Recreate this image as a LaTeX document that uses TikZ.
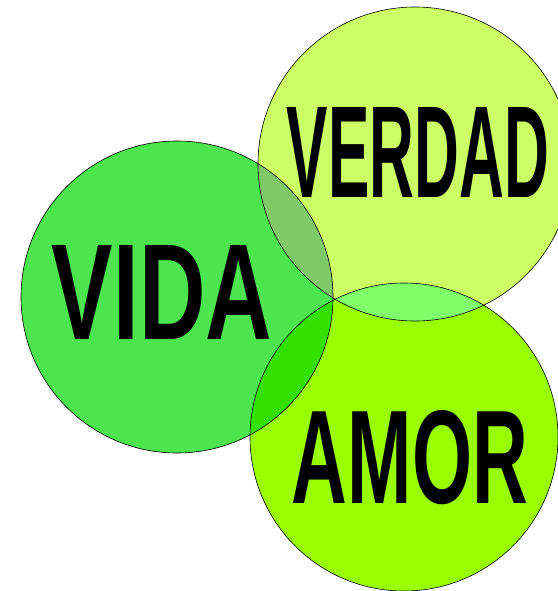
\documentclass[tikz,border=0pt]{standalone}
\usepackage{fontspec}
\setmainfont{Liberation Sans}
\usepackage{graphicx}
\definecolor{vidafill}{HTML}{4CE550}
\definecolor{verdadfill}{HTML}{CCFF66}
\definecolor{amorfill}{HTML}{99FF00}
\definecolor{vidaverdad}{HTML}{80C86A}
\definecolor{vidaamor}{HTML}{33E000}
\definecolor{verdadamor}{HTML}{80FF6A}
\begin{document}
\begin{tikzpicture}[x=1pt,y=-1pt,
    ring/.style={draw=black,line width=0.6pt},
    word/.style={inner sep=0pt,font=\bfseries}]
  \useasboundingbox (0,0) rectangle (557,591);
  \coordinate (vida) at (177,297);
  \coordinate (verdad) at (415,164);
  \coordinate (amor) at (404,437);
  % circles
  \fill[vidafill] (vida) circle (156pt);
  \fill[verdadfill] (verdad) circle (157pt);
  \fill[amorfill] (amor) circle (154pt);
  % overlaps
  \begin{scope}
    \clip (vida) circle (156pt);
    \fill[vidaverdad] (verdad) circle (157pt);
    \fill[vidaamor] (amor) circle (154pt);
  \end{scope}
  \begin{scope}
    \clip (verdad) circle (157pt);
    \fill[verdadamor] (amor) circle (154pt);
  \end{scope}
  \draw[ring] (vida) circle (156pt);
  \draw[ring] (verdad) circle (157pt);
  \draw[ring] (amor) circle (154pt);
  % words
  \node[word] (vidaword) at (162,292) {\resizebox{220pt}{94pt}{VIDA}};
  \node[word] (verdadword) at (418,152) {\resizebox{262pt}{90pt}{VERDAD}};
  \node[word] (amorword) at (410,458) {\resizebox{236pt}{93pt}{AMOR}};
\end{tikzpicture}
\end{document}
